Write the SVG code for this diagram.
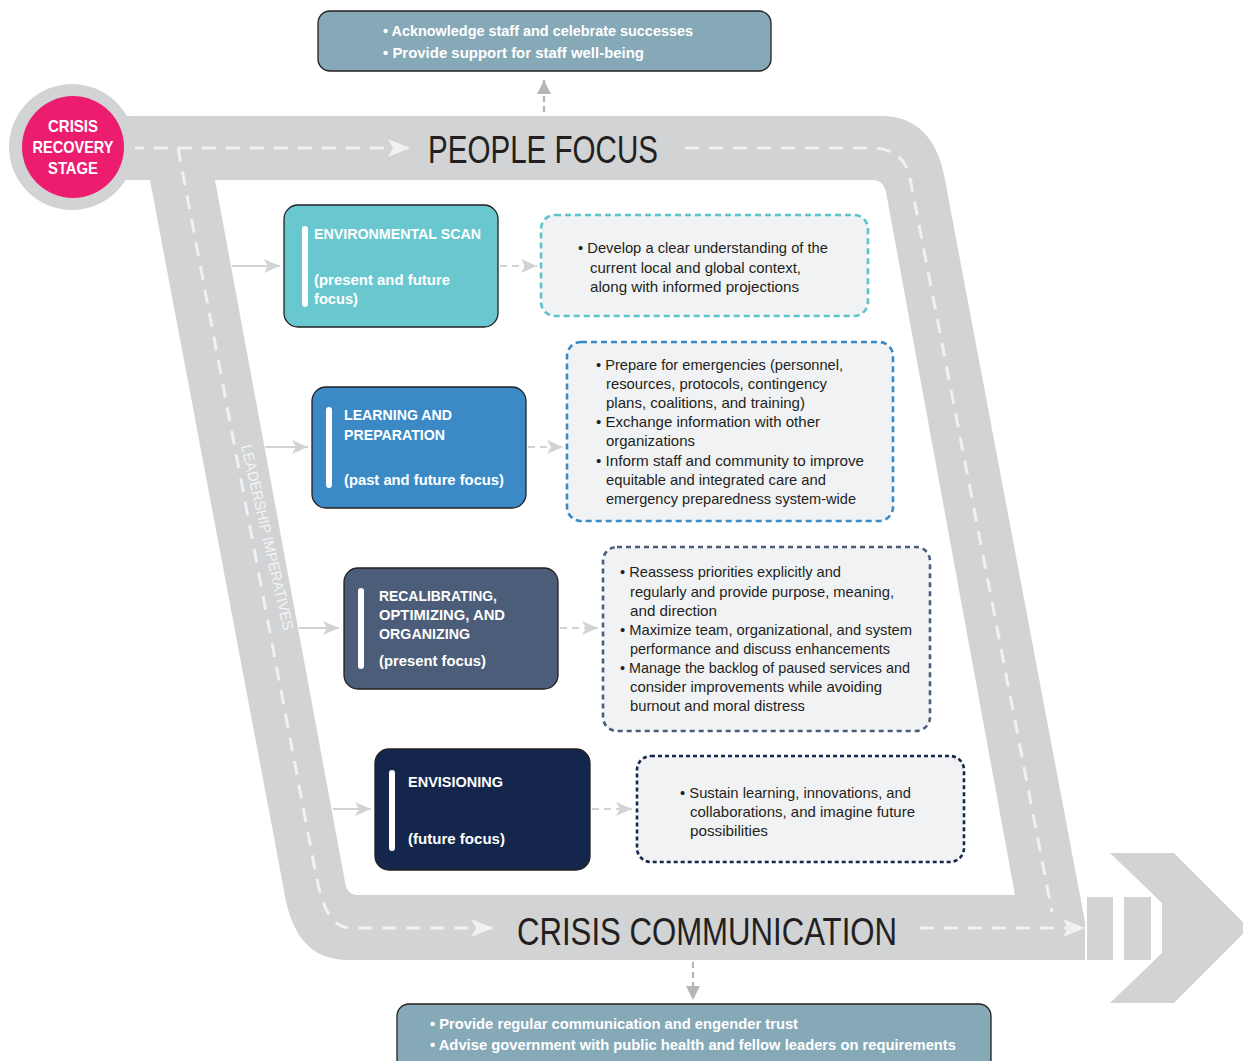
<svg xmlns="http://www.w3.org/2000/svg" width="1243" height="1061" viewBox="0 0 1243 1061">
<style>
text{font-family:"Liberation Sans",Arial,sans-serif}
.band{fill:#d1d3d4}
.road{fill:none;stroke:#f1f1f2;stroke-width:3;stroke-dasharray:14 10}
.big{font-size:39px;fill:#231f20}
.lead{font-size:15px;fill:#f4f4f5}
.stage{font-size:17px;font-weight:bold;fill:#fff;text-anchor:middle}
.node{stroke:#231f20;stroke-width:1.3}
.bar{fill:#fff}
.nt{font-size:15.5px;font-weight:bold;fill:#fff}
.det{fill:#f1f2f4;stroke-width:2.6}
.dt{font-size:15px;fill:#231f20}
.sum{fill:#86a9b7;stroke:#231f20;stroke-width:1.3}
.st{font-size:15.5px;font-weight:bold;fill:#fff}
.conn{fill:none;stroke:#d1d3d4;stroke-width:2.2}
.dash{stroke-dasharray:7 5}
.vconn{fill:none;stroke:#b5b6b8;stroke-width:2.2;stroke-dasharray:6 4}
</style>
<defs>
<marker id="bandArrow" viewBox="0 0 22 18" markerWidth="22" markerHeight="18" refX="22" refY="9" orient="auto" markerUnits="userSpaceOnUse"><path d="M0 0 L22 9 L0 18 L5 9 Z" fill="#f1f1f2"/></marker>
<marker id="grayArrow" viewBox="0 0 16 14" markerWidth="16" markerHeight="14" refX="16" refY="7" orient="auto" markerUnits="userSpaceOnUse"><path d="M0 0 L16 7 L0 14 L4 7 Z" fill="#d1d3d4"/></marker>
<marker id="darkArrow" viewBox="0 0 14 18" markerWidth="14" markerHeight="18" refX="14" refY="9" orient="auto" markerUnits="userSpaceOnUse"><path d="M0 2 L14 9 L0 16 Z" fill="#b5b6b8"/></marker>
</defs>

<g id="band">
<path class="band" fill-rule="evenodd" d="M105 116 H882 C916 116 938 138 945 180 L1085 922 V960 H348 C310 960 290 935 283 885 L150 180 H105 Z M215 180 H872 C880 180 884 184 886 192 L1015 895 H358 C350 895 346 890 345 882 Z"/>
<rect class="band" x="1087" y="897" width="26" height="63"/>
<rect class="band" x="1124" y="897" width="27" height="63"/>
<polygon class="band" points="1110,853 1174,853 1249,928 1174,1003 1110,1003 1162,953 1162,903"/>
<path class="road" d="M130 148 H410" marker-end="url(#bandArrow)"/>
<path class="road" d="M685 148 H872 C895 148 906 160 910 178 L1052 912"/>
<path class="road" d="M178 148 L316 875 C322 905 330 928 352 928 H493" marker-end="url(#bandArrow)"/>
<path class="road" d="M920 928 H1085" marker-end="url(#bandArrow)"/>
<text class="big" x="428" y="163" textLength="230" lengthAdjust="spacingAndGlyphs">PEOPLE FOCUS</text>
<text class="big" x="517" y="945" font-size="40" textLength="380" lengthAdjust="spacingAndGlyphs">CRISIS COMMUNICATION</text>
<text class="lead" transform="translate(241 446) rotate(77)" textLength="190" lengthAdjust="spacingAndGlyphs">LEADERSHIP IMPERATIVES</text>
</g>

<g id="crisis-recovery-stage">
<circle cx="72" cy="147" r="63" fill="#d1d3d4"/>
<circle cx="73" cy="147" r="51" fill="#ec1d6f"/>
<text class="stage" x="73" y="132" textLength="50" lengthAdjust="spacingAndGlyphs">CRISIS</text>
<text class="stage" x="73" y="153" textLength="81" lengthAdjust="spacingAndGlyphs">RECOVERY</text>
<text class="stage" x="73" y="174" textLength="50" lengthAdjust="spacingAndGlyphs">STAGE</text>
</g>

<g id="connectors">
<line class="conn" x1="232" y1="266" x2="280" y2="266" marker-end="url(#grayArrow)"/>
<line class="conn" x1="265" y1="447" x2="308" y2="447" marker-end="url(#grayArrow)"/>
<line class="conn" x1="299" y1="628" x2="339" y2="628" marker-end="url(#grayArrow)"/>
<line class="conn" x1="333" y1="809" x2="371" y2="809" marker-end="url(#grayArrow)"/>
<line class="conn dash" x1="500" y1="266" x2="537" y2="266" marker-end="url(#grayArrow)"/>
<line class="conn dash" x1="528" y1="447" x2="563" y2="447" marker-end="url(#grayArrow)"/>
<line class="conn dash" x1="560" y1="628" x2="598" y2="628" marker-end="url(#grayArrow)"/>
<line class="conn dash" x1="592" y1="809" x2="632" y2="809" marker-end="url(#grayArrow)"/>
<line class="vconn" x1="544" y1="112" x2="544" y2="80" marker-end="url(#darkArrow)"/>
<line class="vconn" x1="693" y1="962" x2="693" y2="1000" marker-end="url(#darkArrow)"/>
</g>

<g id="people-focus-actions">
<rect class="sum" x="318" y="11" width="453" height="60" rx="12"/>
<text class="st" x="383" y="36" textLength="310" lengthAdjust="spacingAndGlyphs">• Acknowledge staff and celebrate successes</text>
<text class="st" x="383" y="58" textLength="261" lengthAdjust="spacingAndGlyphs">• Provide support for staff well-being</text>
</g>

<g id="crisis-communication-actions">
<rect class="sum" x="397" y="1004" width="594" height="70" rx="12"/>
<text class="st" x="430" y="1029" textLength="368" lengthAdjust="spacingAndGlyphs">• Provide regular communication and engender trust</text>
<text class="st" x="430" y="1050" textLength="526" lengthAdjust="spacingAndGlyphs">• Advise government with public health and fellow leaders on requirements</text>
</g>

<g id="environmental-scan">
<rect class="node" x="284" y="205" width="214" height="122" rx="14" fill="#69c8cf"/>
<rect class="bar" x="302" y="226" width="6" height="81" rx="3"/>
<text class="nt" x="314" y="239" textLength="167" lengthAdjust="spacingAndGlyphs">ENVIRONMENTAL SCAN</text>
<text class="nt" x="314" y="285" textLength="136" lengthAdjust="spacingAndGlyphs">(present and future</text>
<text class="nt" x="314" y="304" textLength="44" lengthAdjust="spacingAndGlyphs">focus)</text>
</g>

<g id="learning-and-preparation">
<rect class="node" x="312" y="387" width="214" height="121" rx="14" fill="#3b8ac6"/>
<rect class="bar" x="326" y="407" width="6" height="81" rx="3"/>
<text class="nt" x="344" y="420" textLength="108" lengthAdjust="spacingAndGlyphs">LEARNING AND</text>
<text class="nt" x="344" y="440" textLength="101" lengthAdjust="spacingAndGlyphs">PREPARATION</text>
<text class="nt" x="344" y="485" textLength="160" lengthAdjust="spacingAndGlyphs">(past and future focus)</text>
</g>

<g id="recalibrating">
<rect class="node" x="344" y="568" width="214" height="121" rx="14" fill="#4b5d78"/>
<rect class="bar" x="358" y="588" width="6" height="81" rx="3"/>
<text class="nt" x="379" y="601" textLength="118" lengthAdjust="spacingAndGlyphs">RECALIBRATING,</text>
<text class="nt" x="379" y="620" textLength="126" lengthAdjust="spacingAndGlyphs">OPTIMIZING, AND</text>
<text class="nt" x="379" y="639" textLength="91" lengthAdjust="spacingAndGlyphs">ORGANIZING</text>
<text class="nt" x="379" y="666" textLength="107" lengthAdjust="spacingAndGlyphs">(present focus)</text>
</g>

<g id="envisioning">
<rect class="node" x="375" y="749" width="215" height="121" rx="14" fill="#14264b"/>
<rect class="bar" x="389" y="770" width="6" height="81" rx="3"/>
<text class="nt" x="408" y="787" textLength="95" lengthAdjust="spacingAndGlyphs">ENVISIONING</text>
<text class="nt" x="408" y="844" textLength="97" lengthAdjust="spacingAndGlyphs">(future focus)</text>
</g>

<g id="environmental-scan-details">
<rect class="det" x="541" y="215" width="327" height="101" rx="14" stroke="#5bc4cb" stroke-dasharray="6 4"/>
<text class="dt" x="578" y="253" textLength="250" lengthAdjust="spacingAndGlyphs">• Develop a clear understanding of the</text>
<text class="dt" x="590" y="273" textLength="211" lengthAdjust="spacingAndGlyphs">current local and global context,</text>
<text class="dt" x="590" y="292" textLength="209" lengthAdjust="spacingAndGlyphs">along with informed projections</text>
</g>

<g id="learning-details">
<rect class="det" x="567" y="342" width="326" height="179" rx="14" stroke="#3b8ac6" stroke-dasharray="6 4"/>
<text class="dt" x="596" y="370" textLength="247" lengthAdjust="spacingAndGlyphs">• Prepare for emergencies (personnel,</text>
<text class="dt" x="606" y="389" textLength="221" lengthAdjust="spacingAndGlyphs">resources, protocols, contingency</text>
<text class="dt" x="606" y="408" textLength="199" lengthAdjust="spacingAndGlyphs">plans, coalitions, and training)</text>
<text class="dt" x="596" y="427" textLength="224" lengthAdjust="spacingAndGlyphs">• Exchange information with other</text>
<text class="dt" x="606" y="446" textLength="89" lengthAdjust="spacingAndGlyphs">organizations</text>
<text class="dt" x="596" y="466" textLength="268" lengthAdjust="spacingAndGlyphs">• Inform staff and community to improve</text>
<text class="dt" x="606" y="485" textLength="220" lengthAdjust="spacingAndGlyphs">equitable and integrated care and</text>
<text class="dt" x="606" y="504" textLength="250" lengthAdjust="spacingAndGlyphs">emergency preparedness system-wide</text>
</g>

<g id="recalibrating-details">
<rect class="det" x="603" y="547" width="327" height="184" rx="14" stroke="#4b5d78" stroke-dasharray="5 4"/>
<text class="dt" x="620" y="577" textLength="221" lengthAdjust="spacingAndGlyphs">• Reassess priorities explicitly and</text>
<text class="dt" x="630" y="597" textLength="264" lengthAdjust="spacingAndGlyphs">regularly and provide purpose, meaning,</text>
<text class="dt" x="630" y="616" textLength="87" lengthAdjust="spacingAndGlyphs">and direction</text>
<text class="dt" x="620" y="635" textLength="292" lengthAdjust="spacingAndGlyphs">• Maximize team, organizational, and system</text>
<text class="dt" x="630" y="654" textLength="260" lengthAdjust="spacingAndGlyphs">performance and discuss enhancements</text>
<text class="dt" x="620" y="673" textLength="290" lengthAdjust="spacingAndGlyphs">• Manage the backlog of paused services and</text>
<text class="dt" x="630" y="692" textLength="252" lengthAdjust="spacingAndGlyphs">consider improvements while avoiding</text>
<text class="dt" x="630" y="711" textLength="175" lengthAdjust="spacingAndGlyphs">burnout and moral distress</text>
</g>

<g id="envisioning-details">
<rect class="det" x="637" y="756" width="327" height="106" rx="14" stroke="#14264b" stroke-dasharray="4 3"/>
<text class="dt" x="680" y="798" textLength="231" lengthAdjust="spacingAndGlyphs">• Sustain learning, innovations, and</text>
<text class="dt" x="690" y="817" textLength="225" lengthAdjust="spacingAndGlyphs">collaborations, and imagine future</text>
<text class="dt" x="690" y="836" textLength="78" lengthAdjust="spacingAndGlyphs">possibilities</text>
</g>
</svg>
